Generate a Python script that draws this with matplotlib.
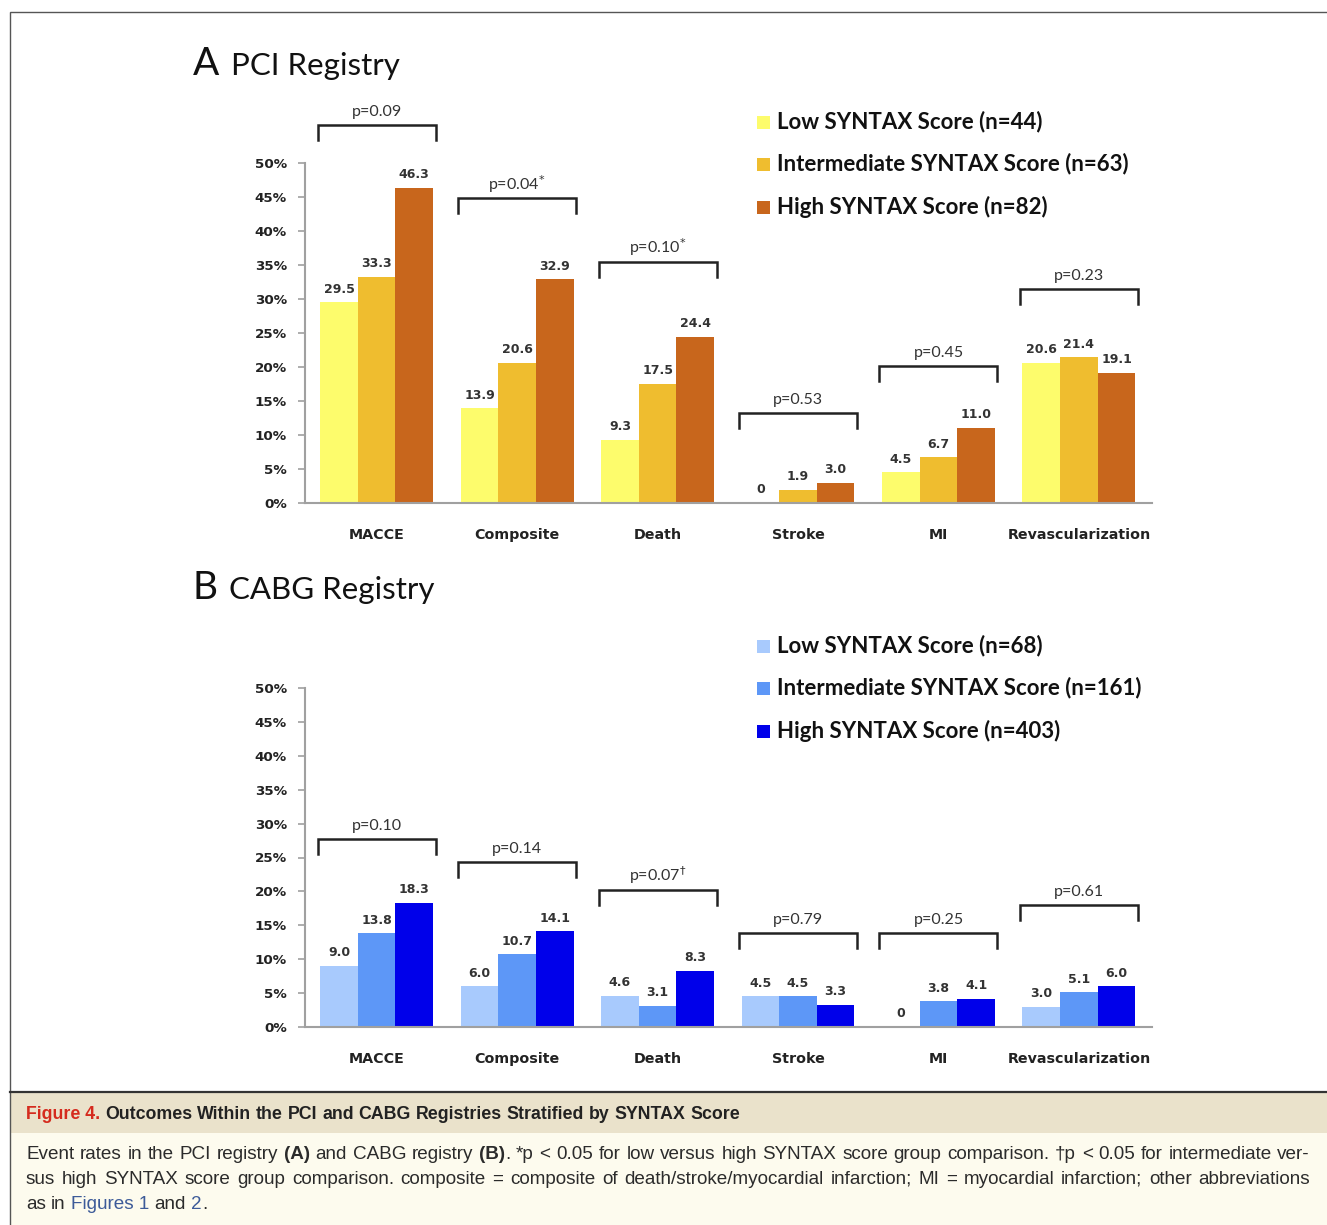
import numpy as np
import matplotlib
matplotlib.use('Agg')
import matplotlib.pyplot as plt
from matplotlib.patches import Rectangle
from matplotlib.lines import Line2D
from matplotlib.transforms import IdentityTransform

W, H = 1327, 1225

# data
outcomes = ['MACCE', 'Composite', 'Death', 'Stroke', 'MI', 'Revascularization']

pci_low = [29.5, 13.9, 9.3, 0, 4.5, 20.6]
pci_mid = [33.3, 20.6, 17.5, 1.9, 6.7, 21.4]
pci_high = [46.3, 32.9, 24.4, 3.0, 11.0, 19.1]
pci_p = ['p=0.09', 'p=0.04$^{*}$', 'p=0.10$^{*}$', 'p=0.53', 'p=0.45', 'p=0.23']
pci_names = ['Low SYNTAX Score (n=44)', 'Intermediate SYNTAX Score (n=63)',
             'High SYNTAX Score (n=82)']

cabg_low = [9.0, 6.0, 4.6, 4.5, 0, 3.0]
cabg_mid = [13.8, 10.7, 3.1, 4.5, 3.8, 5.1]
cabg_high = [18.3, 14.1, 8.3, 3.3, 4.1, 6.0]
cabg_p = ['p=0.10', 'p=0.14', 'p=0.07$^{\\dagger}$', 'p=0.79', 'p=0.25', 'p=0.61']
cabg_names = ['Low SYNTAX Score (n=68)', 'Intermediate SYNTAX Score (n=161)',
              'High SYNTAX Score (n=403)']

# layout (bracket heights in % units)
pci_bracket = [55.6, 44.8, 35.4, 13.2, 20.1, 31.5]
cabg_bracket = [27.7, 24.3, 20.2, 13.9, 13.9, 18.0]

pci_colors = ['#fdfc6c', '#efbd2f', '#c8661c']
cabg_colors = ['#a8cafd', '#5d97f7', '#0000ea']

fig = plt.figure(figsize=(W / 100, H / 100), dpi=100)


def fx(px):
    return px / W


def fy(py):
    return 1 - py / H


# caption background and frame
fig.add_artist(Rectangle((fx(10), fy(1133)), 1, fy(1092) - fy(1133),
                         facecolor='#eae2cb', edgecolor='none'))
fig.add_artist(Rectangle((fx(10), fy(1240)), 1, fy(1133) - fy(1240),
                         facecolor='#fdfbee', edgecolor='none'))
fig.add_artist(Rectangle((fx(10), fy(1240)), 1, fy(12) - fy(1240),
                         fill=False, edgecolor='#555555', lw=1.0))
fig.add_artist(Line2D([fx(10), 1], [fy(1092), fy(1092)], color='#333333', lw=1.6))


def draw_panel(rect, series, colors, p_texts, bracket_y):
    ax = fig.add_axes(rect)
    x = np.arange(len(outcomes))
    w = 0.268
    for k in range(3):
        xs = x + (k - 1) * w
        ax.bar(xs, series[k], w, color=colors[k], linewidth=0)
        for xb, v in zip(xs, series[k]):
            lab = '0' if v == 0 else f'{v:.1f}'
            ax.annotate(lab, (xb, v), xytext=(0, 7), textcoords='offset points',
                        ha='center', va='baseline', fontsize=9,
                        fontweight='bold', color='#333333')
    for xi, p, yb in zip(x, p_texts, bracket_y):
        ax.plot([xi - 0.42, xi - 0.42, xi + 0.42, xi + 0.42],
                [yb - 2.2, yb, yb, yb - 2.2], color='#222222', lw=1.8,
                clip_on=False, solid_joinstyle='miter')
        ax.text(xi, yb + 1.3, p, ha='center', va='baseline', fontsize=11.5,
                family='Lato', color='#333333', clip_on=False)
    ax.set_xlim(-0.51, 5.52)
    ax.set_ylim(0, 50)
    yt = np.arange(0, 51, 5)
    ax.set_yticks(yt, [f'{v}%' for v in yt], fontweight='bold', fontsize=9.7)
    ax.set_xticks(x, outcomes, fontweight='bold', fontsize=10.3)
    ax.tick_params(axis='y', length=5, width=1.2, color='#a0a0a0', pad=8,
                   labelcolor='#222222')
    ax.tick_params(axis='x', length=0, pad=18, labelcolor='#222222')
    for s in ['top', 'right']:
        ax.spines[s].set_visible(False)
    for s in ['left', 'bottom']:
        ax.spines[s].set_color('#a0a0a0')
        ax.spines[s].set_linewidth(1.5)
    return ax


draw_panel([fx(305), fy(503), 847 / W, 340 / H],
           [pci_low, pci_mid, pci_high], pci_colors, pci_p, pci_bracket)
draw_panel([fx(305), fy(1027), 847 / W, 339 / H],
           [cabg_low, cabg_mid, cabg_high], cabg_colors, cabg_p, cabg_bracket)

# panel titles
fig.text(fx(193), fy(75), 'A', fontsize=28, family='Lato', va='baseline', color='#111111')
fig.text(fx(231), fy(75), 'PCI Registry', fontsize=22.5, family='Lato', va='baseline', color='#111111')
fig.text(fx(193), fy(599), 'B', fontsize=28, family='Lato', va='baseline', color='#111111')
fig.text(fx(229), fy(599), 'CABG Registry', fontsize=22.5, family='Lato', va='baseline', color='#111111')


# legends
def legend(names, colors, rows):
    for name, col, r in zip(names, colors, rows):
        fig.add_artist(Rectangle((fx(757), fy(r + 7)), 13 / W, 13 / H,
                                 facecolor=col, edgecolor='none'))
        fig.text(fx(777), fy(r), name, fontsize=16, family='Lato',
                 fontweight='bold', va='center', color='#111111')


legend(pci_names, pci_colors, [122, 164, 207])
legend(cabg_names, cabg_colors, [646, 688, 731])

# caption with justified lines
renderer = fig.canvas.get_renderer()
body = dict(family='Liberation Sans', fontsize=13.6, color='#2b2b2b')
body_b = dict(body, fontweight='bold')
link = dict(body, color='#3d5b99')
head = dict(family=['Liberation Sans Narrow', 'Liberation Sans'], fontsize=12.8,
            fontweight='bold', color='#222222')
head_red = dict(head, color='#d52b1e')


def words(s, props):
    return [(w, props, False) for w in s.split()]


def place_line(tokens, x0, base, x1=None):
    arts = []
    for s, props, join in tokens:
        t = fig.text(0, H - base, s, transform=IdentityTransform(),
                     ha='left', va='baseline', **props)
        arts.append([t, join, t.get_window_extent(renderer).width])
    sp_props = tokens[0][1]
    a = fig.text(0, 0, 'a a', **sp_props)
    b = fig.text(0, 0, 'aa', **sp_props)
    space = a.get_window_extent(renderer).width - b.get_window_extent(renderer).width
    a.remove()
    b.remove()
    ngaps = sum(1 for t in arts[1:] if not t[1])
    if x1 is not None and ngaps:
        total = sum(t[2] for t in arts)
        space = (x1 - x0 - total) / ngaps
    x = x0
    for i, (t, join, wd) in enumerate(arts):
        if i > 0 and not join:
            x += space
        t.set_x(x)
        x += wd


place_line([('Figure 4.', head_red, False)] +
           words('Outcomes Within the PCI and CABG Registries Stratified by SYNTAX Score', head),
           26, 1119)

line1 = (words('Event rates in the PCI registry', body) + [('(A)', body_b, False)] +
         words('and CABG registry', body) + [('(B)', body_b, False), ('.', body, True)] +
         words('*p < 0.05 for low versus high SYNTAX score group comparison. '
               '\u2020p < 0.05 for intermediate ver-', body))
place_line(line1, 26, 1159, 1310)
line2 = words('sus high SYNTAX score group comparison. composite = composite of '
              'death/stroke/myocardial infarction; MI = myocardial infarction; '
              'other abbreviations', body)
place_line(line2, 26, 1184, 1310)
line3 = (words('as in', body) + [('Figures 1', link, False)] + words('and', body) +
         [('2', link, False), ('.', body, True)])
place_line(line3, 26, 1209)

fig.savefig('out.png', dpi=100)
